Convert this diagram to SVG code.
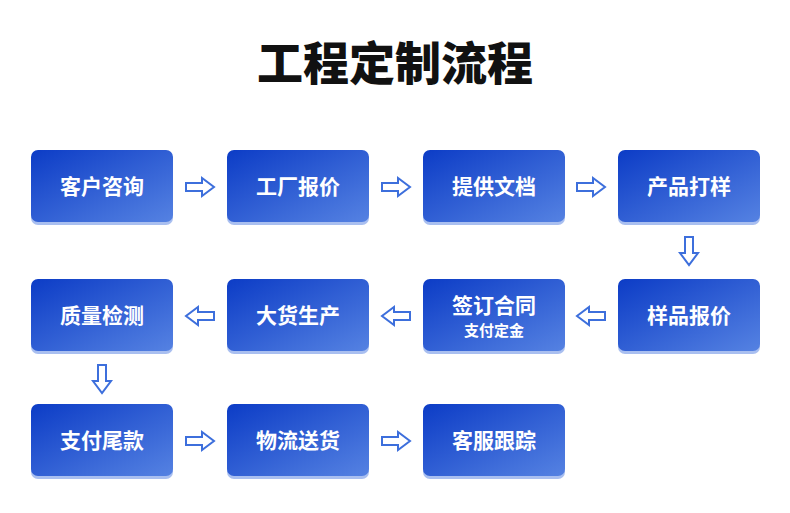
<svg xmlns="http://www.w3.org/2000/svg" width="790" height="513" viewBox="0 0 790 513">
<style>
.t{font-family:"Noto Sans CJK SC","Noto Sans",sans-serif;font-weight:bold;fill:#fff;text-anchor:middle}
.a{fill:#fff;stroke:#3d6fdc;stroke-width:2;stroke-linejoin:miter}
</style>
<defs>
<linearGradient id="g" x1="0" y1="0" x2="1" y2="1">
<stop offset="0" stop-color="#0c3cc6"/><stop offset="1" stop-color="#5582e2"/>
</linearGradient>
<g id="n"><rect x="0" y="2" width="142" height="73" rx="7" fill="#a9bff0"/><rect x="0" y="0" width="142" height="72" rx="7" fill="url(#g)"/></g>
<path id="ar" d="M-14,-4 H2 V-9 L14,0 L2,9 V4 H-14 Z"/>
</defs>
<rect width="790" height="513" fill="#fff"/>
<text x="395" y="80" font-family="'Noto Sans CJK SC',sans-serif" font-weight="900" font-size="46" text-anchor="middle" fill="#111">工程定制流程</text>
<g id="n1"><use href="#n" x="31" y="150"/><text class="t" x="102" y="194" font-size="21">客户咨询</text></g>
<g id="n2"><use href="#n" x="227" y="150"/><text class="t" x="298" y="194" font-size="21">工厂报价</text></g>
<g id="n3"><use href="#n" x="423" y="150"/><text class="t" x="494" y="194" font-size="21">提供文档</text></g>
<g id="n4"><use href="#n" x="618" y="150"/><text class="t" x="689" y="194" font-size="21">产品打样</text></g>
<g id="n5"><use href="#n" x="618" y="279"/><text class="t" x="689" y="323" font-size="21">样品报价</text></g>
<g id="n6"><use href="#n" x="423" y="279"/><text class="t" x="494" y="313" font-size="21">签订合同</text><text class="t" x="494" y="336" font-size="15">支付定金</text></g>
<g id="n7"><use href="#n" x="227" y="279"/><text class="t" x="298" y="323" font-size="21">大货生产</text></g>
<g id="n8"><use href="#n" x="31" y="279"/><text class="t" x="102" y="323" font-size="21">质量检测</text></g>
<g id="n9"><use href="#n" x="31" y="404"/><text class="t" x="102" y="448" font-size="21">支付尾款</text></g>
<g id="n10"><use href="#n" x="227" y="404"/><text class="t" x="298" y="448" font-size="21">物流送货</text></g>
<g id="n11"><use href="#n" x="423" y="404"/><text class="t" x="494" y="448" font-size="21">客服跟踪</text></g>
<g id="connectors">
<use href="#ar" class="a" transform="translate(200,187)"/>
<use href="#ar" class="a" transform="translate(396,187)"/>
<use href="#ar" class="a" transform="translate(591,187)"/>
<use href="#ar" class="a" transform="translate(689,251) rotate(90)"/>
<use href="#ar" class="a" transform="translate(591,316) rotate(180)"/>
<use href="#ar" class="a" transform="translate(396,316) rotate(180)"/>
<use href="#ar" class="a" transform="translate(200,316) rotate(180)"/>
<use href="#ar" class="a" transform="translate(102,379) rotate(90)"/>
<use href="#ar" class="a" transform="translate(200,441)"/>
<use href="#ar" class="a" transform="translate(396,441)"/>
</g>
</svg>
